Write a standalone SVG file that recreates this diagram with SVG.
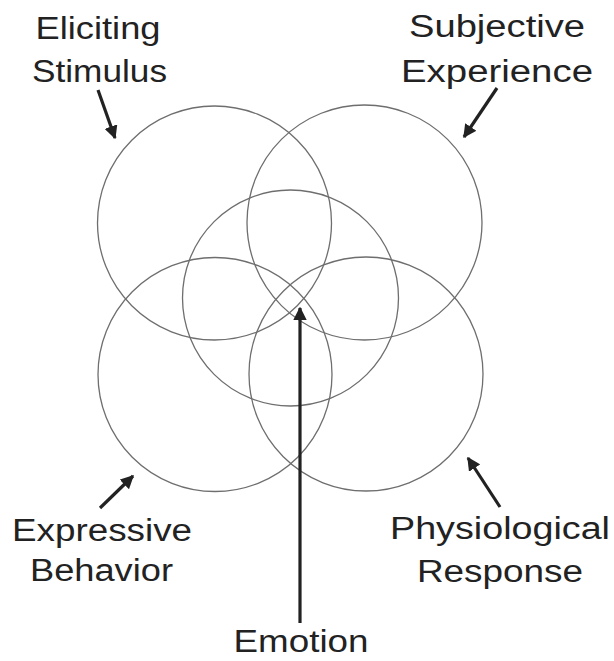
<svg xmlns="http://www.w3.org/2000/svg" width="614" height="661" viewBox="0 0 614 661">
<defs>
<style>
.c{fill:none;stroke:#6e6e6e;stroke-width:1.3}
.a{stroke:#222;stroke-width:3.2;fill:none;marker-end:url(#ah)}
.t{font-family:"Liberation Sans",Arial,sans-serif;font-size:31px;fill:#222;text-anchor:middle}
</style>
<marker id="ah" viewBox="0 0 10 10" refX="9" refY="5" markerWidth="4.2" markerHeight="4.2" orient="auto" markerUnits="strokeWidth">
<path d="M0,0 L10,5 L0,10 z" fill="#222"/>
</marker>
</defs>
<rect width="614" height="661" fill="#fff"/>
<g id="circle-eliciting"><circle class="c" cx="214.5" cy="223" r="117"/></g>
<g id="circle-subjective"><circle class="c" cx="364.5" cy="222.5" r="117.5"/></g>
<g id="circle-emotion"><circle class="c" cx="290.5" cy="298" r="108"/></g>
<g id="circle-expressive"><circle class="c" cx="215" cy="374.5" r="117"/></g>
<g id="circle-physiological"><circle class="c" cx="366" cy="374" r="117"/></g>
<g id="connectors">
<line class="a" x1="98" y1="90" x2="115" y2="138"/>
<line class="a" x1="497" y1="88" x2="464" y2="137"/>
<line class="a" x1="100" y1="508" x2="133" y2="476"/>
<line class="a" x1="500" y1="507" x2="468" y2="458"/>
<line class="a" x1="300" y1="623" x2="300" y2="308"/>
</g>
<g id="label-eliciting">
<text class="t" x="98" y="39" textLength="125" lengthAdjust="spacingAndGlyphs">Eliciting</text>
<text class="t" x="99.5" y="82" textLength="135" lengthAdjust="spacingAndGlyphs">Stimulus</text>
</g>
<g id="label-subjective">
<text class="t" x="497" y="37" textLength="176" lengthAdjust="spacingAndGlyphs">Subjective</text>
<text class="t" x="497" y="82" textLength="192" lengthAdjust="spacingAndGlyphs">Experience</text>
</g>
<g id="label-expressive">
<text class="t" x="102" y="541" textLength="180" lengthAdjust="spacingAndGlyphs">Expressive</text>
<text class="t" x="101.5" y="581" textLength="143" lengthAdjust="spacingAndGlyphs">Behavior</text>
</g>
<g id="label-physiological">
<text class="t" x="500" y="539" textLength="220" lengthAdjust="spacingAndGlyphs">Physiological</text>
<text class="t" x="500" y="582" textLength="166" lengthAdjust="spacingAndGlyphs">Response</text>
</g>
<g id="label-emotion">
<text class="t" x="301" y="652" textLength="135" lengthAdjust="spacingAndGlyphs">Emotion</text>
</g>
</svg>
